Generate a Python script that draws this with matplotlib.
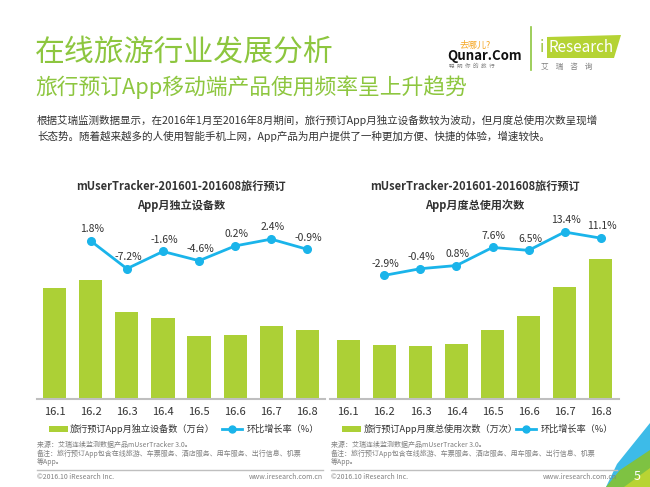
import matplotlib
matplotlib.use("Agg")
import matplotlib.pyplot as plt
from matplotlib.patches import Rectangle, Polygon
from matplotlib.lines import Line2D
import numpy as np

plt.rcParams['font.family'] = ['Noto Sans CJK SC', 'DejaVu Sans']

# data (bar heights are relative, no axis given)
months = ['16.1', '16.2', '16.3', '16.4', '16.5', '16.6', '16.7', '16.8']
devices = [111, 119, 87, 81, 63, 64, 73, 69]
devices_growth = [1.8, -7.2, -1.6, -4.6, 0.2, 2.4, -0.9]
usage = [59, 53.4, 52.4, 54.4, 68.7, 82.4, 111.7, 139.4]
usage_growth = [-2.9, -0.4, 0.8, 7.6, 6.5, 13.4, 11.1]

GREEN = '#8dc63f'
BAR = '#acd036'
BLUE = '#1ab4ea'
DARK = '#333333'
GRAY = '#808080'

W, H = 650, 487
fig = plt.figure(figsize=(6.5, 4.87), dpi=100)


def fx(x):
    return x / W


def fy(y):
    return 1 - y / H


def txt(x, y, s, **kw):
    fig.text(fx(x), fy(y), s, **kw)


# header
txt(35, 52, '在线旅游行业发展分析', fontsize=21.5, color=GREEN, va='center')
txt(35, 87, '旅行预订App移动端产品使用频率呈上升趋势', fontsize=15.7, color=GREEN, va='center')
txt(37, 120, '根据艾瑞监测数据显示，在2016年1月至2016年8月期间，旅行预订App月独立设备数较为波动，但月度总使用次数呈现增',
    fontsize=7.6, color=DARK, va='center')
txt(37, 136, '长态势。随着越来越多的人使用智能手机上网，App产品为用户提供了一种更加方便、快捷的体验，增速较快。',
    fontsize=7.6, color=DARK, va='center')

# logos
txt(459, 45, '去哪儿?', fontsize=6.5, color='#f5a623', va='center')
txt(447, 56, 'Qunar.Com', fontsize=9.5, fontweight='bold', color='#111111', va='center')
txt(449, 66, '聪  明  你  的  旅  行', fontsize=4, color=GRAY, va='center')
fig.add_artist(Line2D([fx(531), fx(531)], [fy(27), fy(70)], color=GREEN, lw=1.2))
fig.add_artist(Polygon([(fx(547), fy(37)), (fx(621), fy(35)), (fx(614), fy(58)), (fx(547), fy(58))],
                       closed=True, color='#b5d334', lw=0))
txt(540, 48, 'i', fontsize=11, color='#9cc33a', va='center')
txt(548, 48, 'Research', fontsize=11, color='white', va='center')
txt(541, 67, '艾    瑞    咨    询', fontsize=5.5, color=GRAY, va='center')


def chart(left, right, title1, title2, vals, growth, ylim2, leg_label, leg_x):
    ax = fig.add_axes([fx(left), fy(398.7), fx(right - left), (398.7 - 215) / H])
    x = np.arange(len(months))
    ax.bar(x, vals, width=0.64, color=BAR)
    ax.set_xlim(-0.5, len(months) - 0.5)
    ax.set_ylim(0, 183.7)
    ax.set_xticks(x)
    ax.set_xticklabels(months, fontsize=8, color=DARK)
    ax.tick_params(axis='x', length=0, pad=6)
    ax.set_yticks([])
    for s in ['top', 'left', 'right']:
        ax.spines[s].set_visible(False)
    ax.spines['bottom'].set_color('#bfbfbf')
    ax.spines['bottom'].set_linewidth(1.5)
    ax.patch.set_alpha(0)

    ax2 = ax.twinx()
    gx = x[1:]
    ax2.plot(gx, growth, color=BLUE, lw=2, marker='o', markersize=5.5)
    ax2.set_ylim(*ylim2)
    ax2.axis('off')
    for xi, v in zip(gx, growth):
        ax2.annotate(f'{v}%', (xi, v), xytext=(1, 8.5), textcoords='offset points',
                     ha='center', va='center', fontsize=7.5, color=DARK)

    cx = (left + right) / 2
    txt(cx, 186, title1, fontsize=8, fontweight='bold', color=DARK, ha='center', va='center')
    txt(cx, 205, title2, fontsize=8, fontweight='bold', color=DARK, ha='center', va='center')

    # legend
    lx = left + 12
    fig.add_artist(Rectangle((fx(lx), fy(432)), fx(19), 6 / H, color=BAR, lw=0))
    txt(lx + 21, 429, leg_label, fontsize=6.6, color=DARK, va='center')
    fig.add_artist(Line2D([fx(leg_x), fx(leg_x + 10), fx(leg_x + 20)], [fy(429)] * 3, color=BLUE, lw=2,
                          marker='o', markersize=5, markevery=[1]))
    txt(leg_x + 25, 429, '环比增长率（%）', fontsize=6.6, color=DARK, va='center')

    # source notes
    sx = left + 0.5
    txt(sx, 445, '来源：艾瑞连续监测数据产品mUserTracker 3.0。', fontsize=5, color=GRAY, va='center')
    txt(sx, 453.5, '备注：旅行预订App包含在线旅游、车票服务、酒店服务、用车服务、出行信息、机票', fontsize=5,
        color=GRAY, va='center')
    txt(sx, 462, '等App。', fontsize=5, color=GRAY, va='center')
    fig.add_artist(Line2D([fx(sx), fx(right - 2)], [fy(469.5), fy(469.5)], color='#bfbfbf', lw=1))
    txt(sx, 477, '©2016.10 iResearch Inc.', fontsize=5, color=GRAY, va='center')
    txt(right - 2, 477, 'www.iresearch.com.cn', fontsize=5, color=GRAY, va='center', ha='right')


chart(36.7, 325.3, 'mUserTracker-201601-201608旅行预订', 'App月独立设备数',
      devices, devices_growth, (-49.4, 10.24), '旅行预订App月独立设备数（万台）', 222)
chart(330.3, 618.7, 'mUserTracker-201601-201608旅行预订', 'App月度总使用次数',
      usage, usage_growth, (-49.3, 19.8), '旅行预订App月度总使用次数（万次）', 516)

# page corner decoration
fig.add_artist(Polygon([(fx(617), fy(464)), (fx(650), fy(423)), (fx(650), fy(487)), (fx(606), fy(487))],
                       closed=True, color='#3dbbe8', lw=0))
fig.add_artist(Polygon([(fx(606), fy(487)), (fx(620), fy(470)), (fx(650), fy(450)), (fx(650), fy(487))],
                       closed=True, color='#7ec242', lw=0))
fig.add_artist(Polygon([(fx(624), fy(487)), (fx(650), fy(468)), (fx(650), fy(487))],
                       closed=True, color='#b8d433', lw=0))
txt(637, 476, '5', fontsize=9, color='white', ha='center', va='center')

fig.savefig('out.png', dpi=100)
